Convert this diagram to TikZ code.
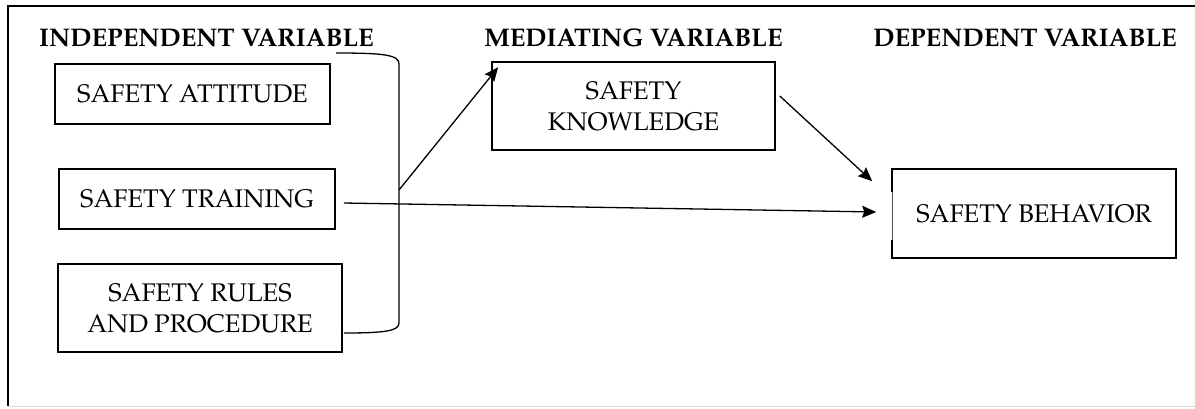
\documentclass[tikz,border=0pt]{standalone}
\usepackage[T1]{fontenc}
\usepackage{mathpazo}
\usetikzlibrary{arrows.meta,calc}

\begin{document}
\begin{tikzpicture}[x=1pt,y=-1pt,
    varbox/.style={draw,line width=1.6pt,align=center,inner sep=0pt,
      font=\fontsize{25.5}{31}\selectfont},
    heading/.style={font=\fontsize{25.5}{31}\selectfont\bfseries},
    link/.style={line width=1.3pt,-{Stealth[length=14pt,width=12pt,inset=2pt]}}]
                \useasboundingbox (0,0) rectangle (1195,408);
                \draw[line width=1.5pt] (1195,6) -- (8,6) -- (8,406);
                \draw[black!15,line width=1pt] (8,406) -- (1195,406);

                \node[heading] (hind) at (206.5,38) {INDEPENDENT VARIABLE};
                \node[heading] (hmed) at (633.5,38) {MEDIATING VARIABLE};
                \node[heading] (hdep) at (1025,38) {DEPENDENT VARIABLE};

                \node[varbox,minimum width=275pt,minimum height=60pt] (att) at (192.5,94) {SAFETY ATTITUDE};
                \node[varbox,minimum width=276pt,minimum height=60pt] (trn) at (197,199) {SAFETY TRAINING};
                \node[varbox,minimum width=284pt,minimum height=88pt] (rul) at (200,308) {SAFETY RULES\\AND PROCEDURE};
                \node[varbox,minimum width=283pt,minimum height=88pt] (kno) at (633.5,106) {SAFETY\\KNOWLEDGE};
                \node[varbox,minimum width=284pt,minimum height=89pt] (beh) at (1034,213.5) {SAFETY BEHAVIOR};

                % broken left edge of the behaviour box
                \draw[white,line width=2.5pt] ($(beh.west)+(0,-22)$) -- ($(beh.west)+(0,26)$);
                \draw[black!70,line width=1pt] ($(beh.west)+(1.5,-22)$) -- ($(beh.west)+(1.5,26)$);

                \coordinate (bt) at (336,53);
                \coordinate (bm) at (399,190);
                \coordinate (bb) at ($(rul.east)+(1,25)$);
                \draw[line width=1.3pt] (bt) .. controls (385,53) and (399,55) .. (399,64)
                    -- (399,323) .. controls (399,331) and (385,333) .. (bb);

                \draw[link] (bm) -- ($(kno.north west)+(7,6)$);
                \draw[link] ($(kno.east)+(4,-10)$) -- ($(beh.north west)+(-19,13)$);
                \draw[link] ($(trn.east)+(8,4)$) -- ($(beh.west)+(-15,-1.5)$);
\end{tikzpicture}
\end{document}
